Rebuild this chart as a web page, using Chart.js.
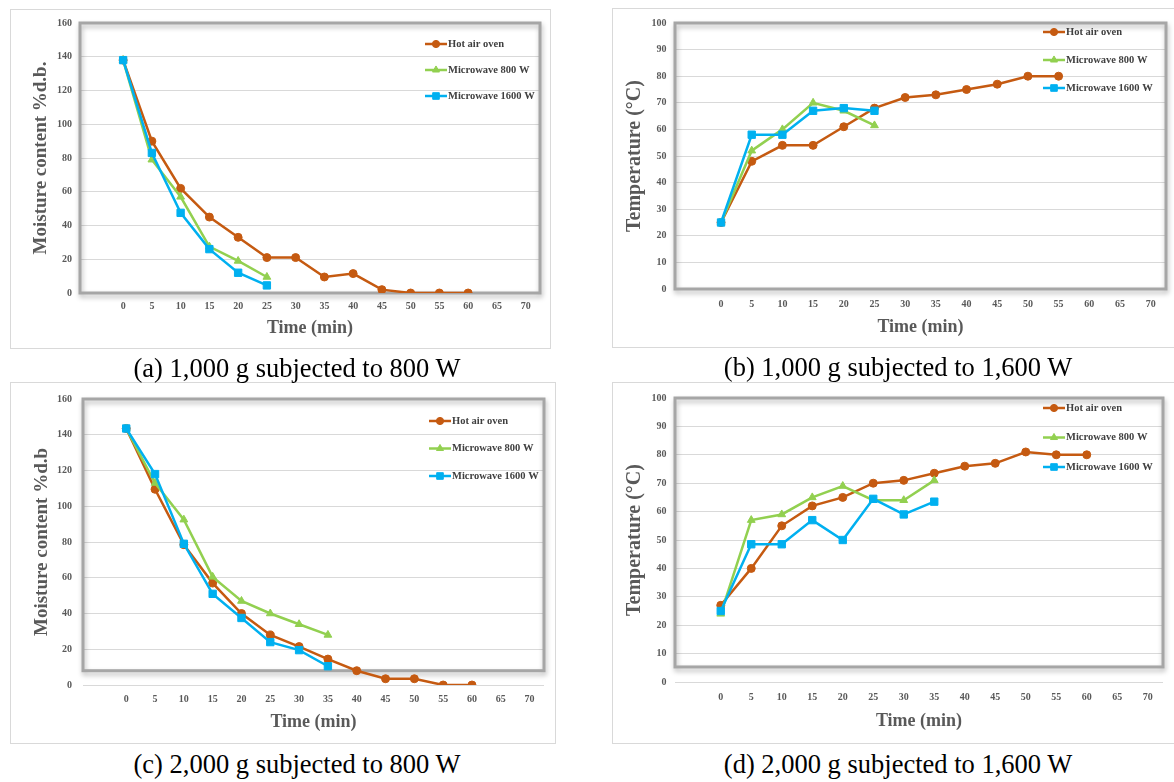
<!DOCTYPE html>
<html>
<head>
<meta charset="utf-8">
<title>Drying curves</title>
<script src="https://cdn.jsdelivr.net/npm/chart.js@4.4.0/dist/chart.umd.min.js"></script>
<style>
  html, body { margin: 0; padding: 0; background: #fff; }
  body { width: 1174px; height: 782px; position: relative; overflow: hidden; }
  .panel { position: absolute; border: 1px solid #d9d9d9; box-sizing: border-box; }
  .panel canvas { position: absolute; left: -1px; top: -1px; }
  .caption { position: absolute; width: 500px; text-align: center; white-space: nowrap;
             font-family: "Liberation Serif", "Times New Roman", serif; font-size: 26.5px;
             line-height: 30px; color: #000; }
</style>
</head>
<body>
<div class="panel" style="left:10px;top:9px;width:541px;height:340px"><canvas id="chartA" width="541" height="340"></canvas></div>
<div class="panel" style="left:612px;top:8px;width:566px;height:340px"><canvas id="chartB" width="566" height="340"></canvas></div>
<div class="panel" style="left:10px;top:382px;width:546px;height:362px"><canvas id="chartC" width="546" height="362"></canvas></div>
<div class="panel" style="left:612px;top:382px;width:566px;height:362px"><canvas id="chartD" width="566" height="362"></canvas></div>

<div class="caption" style="left:47px;top:353px">(a) 1,000 g subjected to 800 W</div>
<div class="caption" style="left:648px;top:352px">(b) 1,000 g subjected to 1,600 W</div>
<div class="caption" style="left:47px;top:749px">(c) 2,000 g subjected to 800 W</div>
<div class="caption" style="left:648px;top:749px">(d) 2,000 g subjected to 1,600 W</div>

<script>
// tick labels of the time axis
const timeTicks = [0, 5, 10, 15, 20, 25, 30, 35, 40, 45, 50, 55, 60, 65, 70];

// (a) 1,000 g, 800 W - moisture content
const timeHotA = [0, 5, 10, 15, 20, 25, 30, 35, 40, 45, 50, 55, 60];
const timeMwA = [0, 5, 10, 15, 20, 25];
const hotA = [138, 90, 62, 45, 33, 21, 21, 9.5, 11.5, 2, 0, 0, 0];
const mw800A = [138, 79, 57, 27.5, 19, 9.5];
const mw1600A = [138, 83, 47.5, 26, 12, 4.5];

// (b) 1,000 g, 1,600 W - temperature
const timeHotB = [0, 5, 10, 15, 20, 25, 30, 35, 40, 45, 50, 55];
const timeMwB = [0, 5, 10, 15, 20, 25];
const hotB = [25, 48, 54, 54, 61, 68, 72, 73, 75, 77, 80, 80];
const mw800B = [25, 52, 60, 70, 67, 61.5];
const mw1600B = [25, 58, 58, 67, 68, 67];

// (c) 2,000 g, 800 W - moisture content
const timeHotC = [0, 5, 10, 15, 20, 25, 30, 35, 40, 45, 50, 55, 60];
const timeMwC = [0, 5, 10, 15, 20, 25, 30, 35];
const hotC = [143.5, 109.5, 78.5, 57, 40, 28, 21.5, 14.5, 8, 3.5, 3.5, 0, 0];
const mw800C = [143.5, 113, 92.5, 60.5, 47, 40, 34, 28];
const mw1600C = [143.5, 118, 79, 51, 37.5, 24, 19.5, 10.5];

// (d) 2,000 g, 1,600 W - temperature
const timeHotD = [0, 5, 10, 15, 20, 25, 30, 35, 40, 45, 50, 55, 60];
const timeMwD = [0, 5, 10, 15, 20, 25, 30, 35];
const hotD = [27, 40, 55, 62, 65, 70, 71, 73.5, 76, 77, 81, 80, 80];
const mw800D = [24, 57, 59, 65, 69, 64, 64, 71];
const mw1600D = [25, 48.5, 48.5, 57, 50, 64.5, 59, 63.5];

const seriesNames = ['Hot air oven', 'Microwave 800 W', 'Microwave 1600 W'];
const seriesColors = ['#c55a11', '#92d050', '#00b0f0'];

const serif = '"Liberation Serif", "Times New Roman", serif';
const axisGray = '#595959';

function series(idx, times, values, style, radius) {
  return {
    label: seriesNames[idx],
    data: times.map((t, i) => ({ x: t, y: values[i] })),
    borderColor: seriesColors[idx],
    backgroundColor: seriesColors[idx],
    borderWidth: 2.5,
    pointStyle: style,
    pointRadius: radius,
    pointHoverRadius: radius,
    pointBorderWidth: 1,
    tension: 0,
    order: 2 - idx
  };
}

// excel style plot area frame with shadow
const plotFrame = {
  id: 'plotFrame',
  beforeDatasetsDraw(chart, args, opts) {
    const { ctx, chartArea } = chart;
    const bottom = chart.scales.y.getPixelForValue(opts.bottomValue);
    ctx.save();
    ctx.shadowColor = 'rgba(0,0,0,0.28)';
    ctx.shadowBlur = 5;
    ctx.shadowOffsetX = 1;
    ctx.shadowOffsetY = 3;
    ctx.strokeStyle = '#a6a6a6';
    ctx.lineWidth = 3;
    ctx.strokeRect(chartArea.left, chartArea.top, chartArea.right - chartArea.left, bottom - chartArea.top);
    ctx.restore();
  }
};

// legend drawn inside the plot, top right
const insideLegend = {
  id: 'insideLegend',
  afterDatasetsDraw(chart, args, opts) {
    const { ctx, chartArea } = chart;
    const x0 = chartArea.right + opts.dx;
    chart.data.datasets.forEach((ds, i) => {
      const y = chartArea.top + opts.dy + i * opts.gap;
      ctx.save();
      ctx.strokeStyle = ds.borderColor;
      ctx.lineWidth = ds.borderWidth;
      ctx.beginPath();
      ctx.moveTo(x0, y);
      ctx.lineTo(x0 + 22, y);
      ctx.stroke();
      ctx.fillStyle = ds.backgroundColor;
      ctx.lineWidth = 1;
      Chart.helpers.drawPoint(ctx, { pointStyle: ds.pointStyle, radius: ds.pointRadius * 0.9, borderWidth: 1 }, x0 + 11, y);
      ctx.fillStyle = '#404040';
      ctx.font = 'bold 10.5px ' + serif;
      ctx.textBaseline = 'middle';
      ctx.fillText(ds.label, x0 + 23, y);
      ctx.restore();
    });
  }
};

function makeChart(id, c) {
  new Chart(document.getElementById(id), {
    type: 'line',
    data: {
      datasets: [
        series(0, c.timeHot, c.hot, 'circle', 4),
        series(1, c.timeMw, c.mw800, 'triangle', 4.5),
        series(2, c.timeMw, c.mw1600, 'rect', 5.2)
      ]
    },
    options: {
      responsive: false,
      animation: false,
      layout: { padding: { left: 0, top: c.top, right: c.right, bottom: 0 } },
      plugins: {
        legend: { display: false },
        tooltip: { enabled: false },
        plotFrame: { bottomValue: c.frameBottom },
        insideLegend: c.legend
      },
      scales: {
        x: {
          type: 'linear',
          min: -7.5,
          max: 72.5,
          afterBuildTicks: s => { s.ticks = timeTicks.map(v => ({ value: v })); },
          afterFit: s => { s.height = c.xHeight; },
          grid: { display: false, drawTicks: false },
          border: { display: false },
          ticks: { color: axisGray, padding: c.xTickPad, maxRotation: 0, autoSkip: false,
                   font: { family: serif, size: 10, weight: 'bold' } },
          title: { display: true, text: 'Time (min)', color: axisGray,
                   padding: { top: 0, bottom: c.xTitlePad },
                   font: { family: serif, size: 18, weight: 'bold' } }
        },
        y: {
          min: 0,
          max: c.yMax,
          afterFit: s => { s.width = c.yWidth; },
          grid: { color: '#d9d9d9', lineWidth: 1, drawTicks: false },
          border: { display: false },
          ticks: { stepSize: c.yStep, color: axisGray, padding: c.yTickPad,
                   font: { family: serif, size: 10, weight: 'bold' } },
          title: { display: true, text: c.yTitle, color: axisGray,
                   padding: { top: c.yTitlePad, bottom: 0 },
                   font: { family: serif, size: c.yTitleSize, weight: 'bold' } }
        }
      }
    },
    plugins: [plotFrame, insideLegend]
  });
}

makeChart('chartA', {
  timeHot: timeHotA, timeMw: timeMwA, hot: hotA, mw800: mw800A, mw1600: mw1600A,
  yMax: 160, yStep: 20, yTitle: 'Moisture content %d.b.', yTitleSize: 19,
  top: 11, right: 11, yWidth: 70, xHeight: 56,
  yTickPad: 8, yTitlePad: 19.6, xTickPad: 7, xTitlePad: 10,
  frameBottom: 0, legend: { dx: -115, dy: 21, gap: 26 }
});

makeChart('chartB', {
  timeHot: timeHotB, timeMw: timeMwB, hot: hotB, mw800: mw800B, mw1600: mw1600B,
  yMax: 100, yStep: 10, yTitle: 'Temperature (°C)', yTitleSize: 20,
  top: 15, right: 12, yWidth: 63, xHeight: 59,
  yTickPad: 8.5, yTitlePad: 11, xTickPad: 9, xTitlePad: 10,
  frameBottom: 0, legend: { dx: -123, dy: 9, gap: 28 }
});

makeChart('chartC', {
  timeHot: timeHotC, timeMw: timeMwC, hot: hotC, mw800: mw800C, mw1600: mw1600C,
  yMax: 160, yStep: 20, yTitle: 'Moisture content %d.b', yTitleSize: 19,
  top: 13, right: 12, yWidth: 73, xHeight: 59,
  yTickPad: 11, yTitlePad: 20.6, xTickPad: 8, xTitlePad: 11,
  frameBottom: 8, legend: { dx: -115, dy: 22, gap: 27.5 }
});

makeChart('chartD', {
  timeHot: timeHotD, timeMw: timeMwD, hot: hotD, mw800: mw800D, mw1600: mw1600D,
  yMax: 100, yStep: 10, yTitle: 'Temperature (°C)', yTitleSize: 20,
  top: 16, right: 15, yWidth: 63, xHeight: 62,
  yTickPad: 8.5, yTitlePad: 11, xTickPad: 9, xTitlePad: 12,
  frameBottom: 5.3, legend: { dx: -120, dy: 10, gap: 29.5 }
});
</script>
</body>
</html>
